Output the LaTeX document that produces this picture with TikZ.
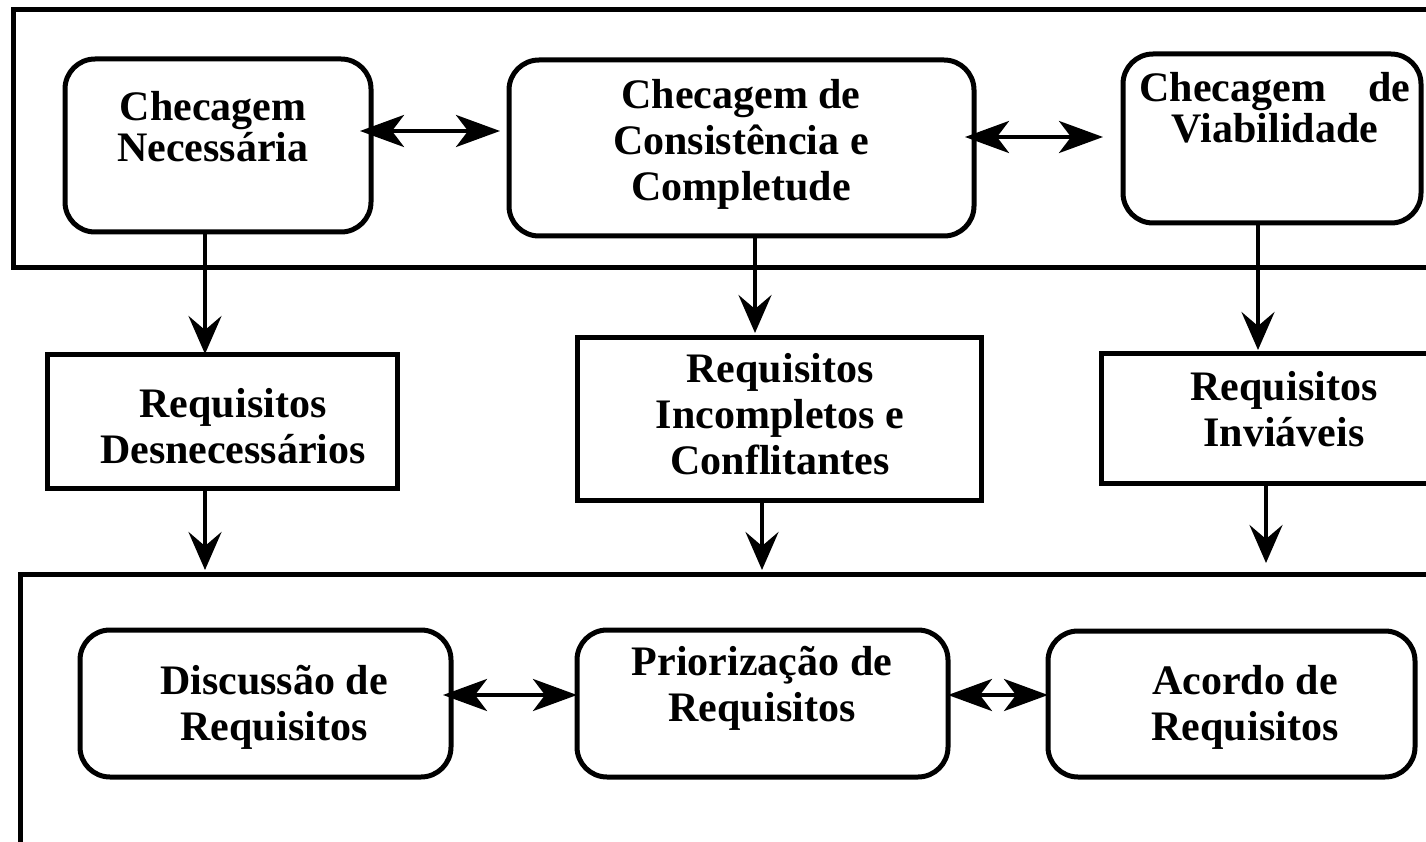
\documentclass[tikz,border=0pt]{standalone}
\usepackage{fontspec}
\setmainfont{Liberation Serif}
\usetikzlibrary{arrows.meta,calc}
\begin{document}
\begin{tikzpicture}[x=1pt,y=-1pt,
  box/.style={draw,line width=5pt,rounded corners=30pt,inner sep=0pt,outer sep=0pt},
  sqbox/.style={draw,line width=5pt,inner sep=0pt,outer sep=0pt},
  frame/.style={draw,line width=5pt,inner sep=0pt,outer sep=0pt},
  txt/.style={font=\fontsize{42pt}{46pt}\selectfont\bfseries,align=center,inner sep=0pt},
  txtb/.style={font=\fontsize{42pt}{41pt}\selectfont\bfseries,align=center,inner sep=0pt},
  varr/.style={line width=4pt,-{Stealth[length=38pt,width=33pt,inset=14pt]}},
  harr/.style={line width=4pt,{Stealth[length=44pt,width=32pt,inset=12pt]}-{Stealth[length=44pt,width=32pt,inset=12pt]}}]
\useasboundingbox (0,0) rectangle (1426,842);
\fill[white] (0,0) rectangle (1426,842);
\clip (0,0) rectangle (1426,842);

% outer frames
\node[frame,minimum width=1500pt,minimum height=258pt] (outt) at (763,139) {};
\node[frame,minimum width=1500pt,minimum height=400pt] (outb) at (770,774) {};

% top row
\node[box,minimum width=306pt,minimum height=173pt] (nec) at (218,145.5) {};
\node[txtb] (nect) at (213,126.5) {Checagem\\Necessária};
\node[box,minimum width=465pt,minimum height=176pt] (cons) at (741.5,148) {};
\node[txt] (const) at (741,144) {Checagem de\\Consistência e\\Completude};
\node[box,minimum width=298pt,minimum height=169pt] (viab) at (1272,138.5) {};
\node[txtb] (viabt) at (1275,108) {\hbox to 271pt{Checagem\hfill de}\\Viabilidade};

% middle row
\node[sqbox,minimum width=350pt,minimum height=134pt] (des) at (222,421) {};
\node[txt] (dest) at (233,426) {Requisitos\\Desnecessários};
\node[sqbox,minimum width=404pt,minimum height=163pt] (inc) at (779,418.5) {};
\node[txt] (inct) at (780,414) {Requisitos\\Incompletos e\\Conflitantes};
\node[sqbox,minimum width=370pt,minimum height=130pt] (inv) at (1286,418) {};
\node[txt] (invt) at (1284,409) {Requisitos\\Inviáveis};

% bottom row
\node[box,minimum width=371pt,minimum height=147pt] (disc) at (265.5,703.5) {};
\node[txt] (disct) at (274,707) {Discussão de\\Requisitos};
\node[box,minimum width=371pt,minimum height=147pt] (prio) at (762.5,703.5) {};
\node[txt] (priot) at (762,688) {Priorização de\\Requisitos};
\node[box,minimum width=367pt,minimum height=146pt] (acc) at (1231.5,704) {};
\node[txt] (acct) at (1245,707) {Acordo de\\Requisitos};

% helper coordinates
\coordinate (v1) at (205,0);
\coordinate (v2) at (755,0);
\coordinate (v3) at (762,0);
\coordinate (v4) at (1258,0);
\coordinate (v5) at (1266,0);
\coordinate (h1) at (0,131);
\coordinate (h2) at (0,137);
\coordinate (h3) at (0,695);

% vertical arrows
\draw[varr] (nec.south -| v1) -- (des.north -| v1);
\draw[varr,shorten >=4pt] (des.south -| v1) -- (outb.north -| v1);
\draw[varr,shorten >=4pt] (cons.south -| v2) -- (inc.north -| v2);
\draw[varr,shorten >=4pt] (inc.south -| v3) -- (outb.north -| v3);
\draw[varr,shorten >=3pt] (viab.south -| v4) -- (inv.north -| v4);
\draw[varr,shorten >=11pt] (inv.south -| v5) -- (outb.north -| v5);

% horizontal double arrows
\draw[harr,shorten <=-11pt,shorten >=9pt] (nec.east |- h1) -- (cons.west |- h1);
\draw[harr,shorten <=-9pt,shorten >=20pt] (cons.east |- h2) -- (viab.west |- h2);
\draw[harr,shorten <=-8pt] (disc.east |- h3) -- (prio.west |- h3);
\draw[harr] (prio.east |- h3) -- (acc.west |- h3);
\end{tikzpicture}
\end{document}
